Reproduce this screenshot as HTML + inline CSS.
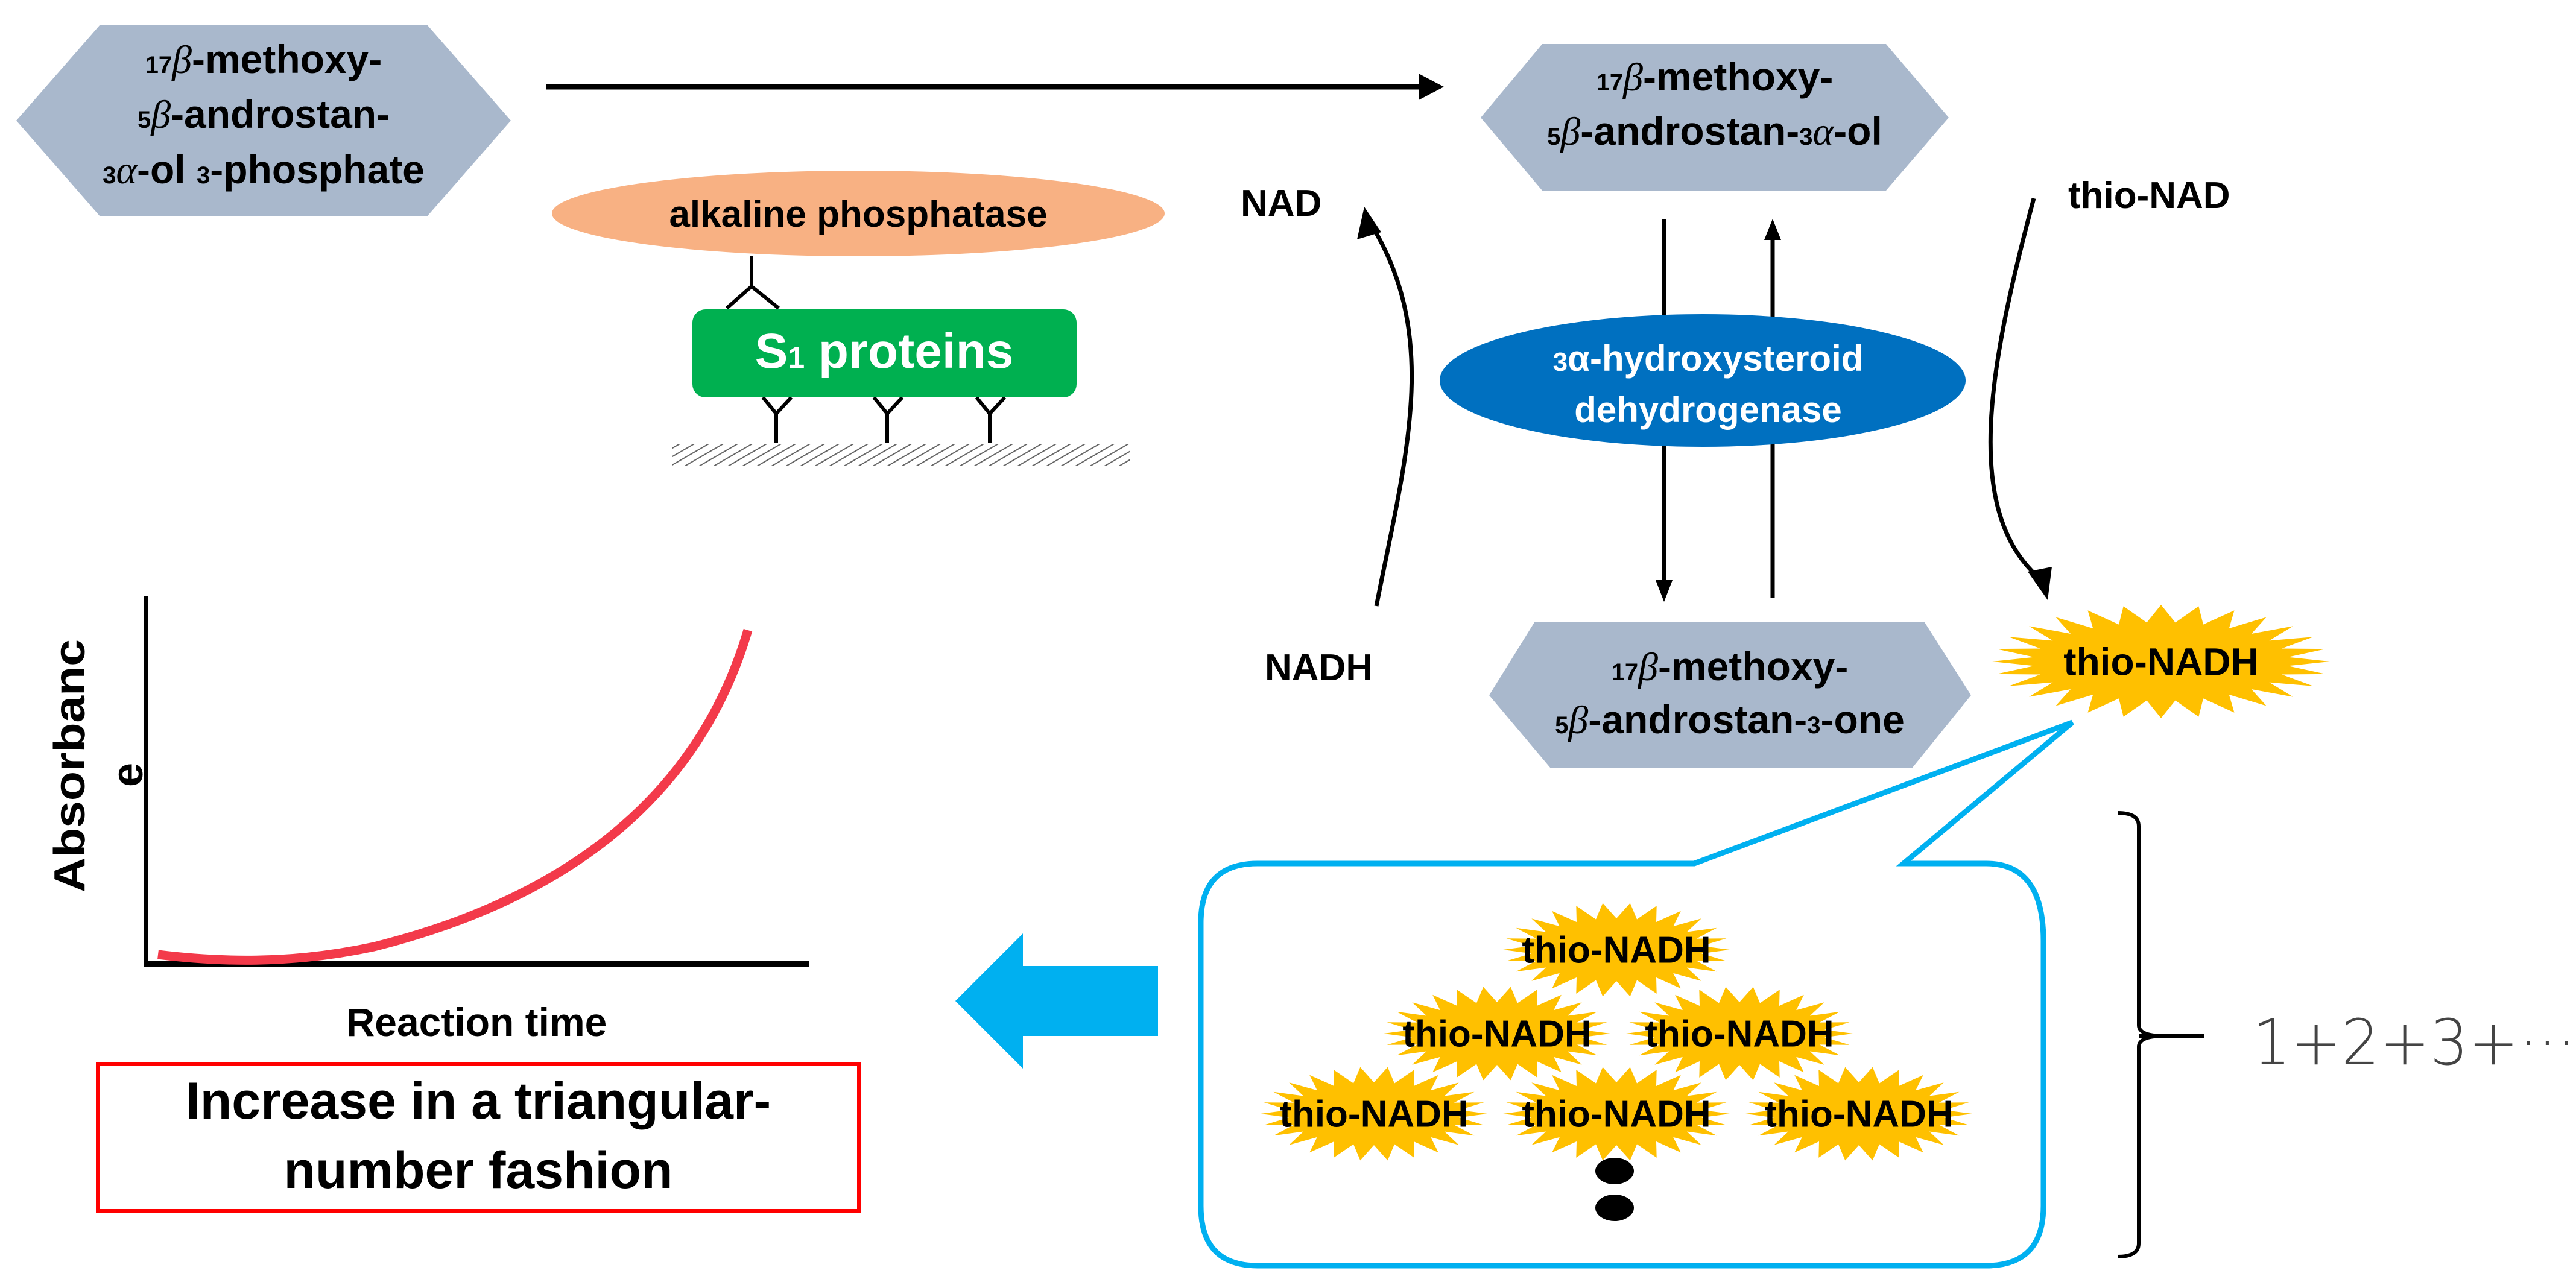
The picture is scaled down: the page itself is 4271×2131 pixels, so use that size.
<!DOCTYPE html>
<html><head><meta charset="utf-8"><style>
html,body{margin:0;padding:0;background:#fff;}
svg{display:block;}
text{font-family:"Liberation Sans Narrow","Liberation Sans",sans-serif;font-weight:bold;}
</style></head><body>
<svg id="s" width="4271" height="2131" viewBox="0 0 4271 2131" xmlns="http://www.w3.org/2000/svg">
<defs>
<pattern id="hatch" width="12" height="12" patternUnits="userSpaceOnUse" patternTransform="rotate(60)">
<rect width="12" height="12" fill="#fff"/><line x1="0" y1="0" x2="0" y2="12" stroke="#666" stroke-width="4"/>
</pattern>
<marker id="ah" markerWidth="10" markerHeight="10" refX="9" refY="5" orient="auto" markerUnits="userSpaceOnUse" viewBox="0 0 10 10" style="overflow:visible">
<path d="M0,0 L10,5 L0,10 z" fill="#000" transform="scale(3.2) translate(-7,-3.4)"/>
</marker>
</defs>

<!-- hexagon 1 -->
<polygon points="166,41 708,41 847,200 708,359 166,359 27,200" fill="#a9b8cc"/>
<text x="437" y="121" font-size="66" text-anchor="middle"><tspan font-size="40">17</tspan><tspan font-weight="normal" font-style="italic" font-family="Liberation Serif,serif">β</tspan>-methoxy-</text>
<text x="437" y="212" font-size="66" text-anchor="middle"><tspan font-size="40">5</tspan><tspan font-weight="normal" font-style="italic" font-family="Liberation Serif,serif">β</tspan>-androstan-</text>
<text x="437" y="304" font-size="66" text-anchor="middle"><tspan font-size="40">3</tspan><tspan font-weight="normal" font-style="italic" font-family="Liberation Serif,serif">α</tspan>-ol <tspan font-size="40">3</tspan>-phosphate</text>

<!-- top arrow -->
<line x1="906" y1="144" x2="2360" y2="144" stroke="#000" stroke-width="9"/>
<polygon points="2394,144 2352,122 2352,166" fill="#000"/>

<!-- alkaline phosphatase -->
<ellipse cx="1423" cy="354" rx="508" ry="71" fill="#f8b183"/>
<text x="1423" y="376" font-size="62" text-anchor="middle">alkaline phosphatase</text>
<g stroke="#000" stroke-width="6" fill="none">
<line x1="1246" y1="425" x2="1246" y2="475"/>
<polyline points="1205,511 1246,475 1291,511"/>
<polyline points="1265,659 1287,686 1312,659"/>
<line x1="1287" y1="686" x2="1287" y2="735"/>
<polyline points="1449,659 1471,686 1496,659"/>
<line x1="1471" y1="686" x2="1471" y2="735"/>
<polyline points="1619,659 1641,686 1666,659"/>
<line x1="1641" y1="686" x2="1641" y2="735"/>
</g>
<rect x="1148" y="513" width="637" height="146" rx="22" fill="#00b050"/>
<text x="1466" y="610" font-size="82" fill="#fff" text-anchor="middle">S<tspan font-size="50">1</tspan> proteins</text>
<rect x="1114" y="737" width="760" height="36" fill="url(#hatch)"/>

<!-- hexagon 2 -->
<polygon points="2557,73 3127,73 3231,195 3127,316 2557,316 2455,195" fill="#a9b8cc"/>
<text x="2843" y="150" font-size="66" text-anchor="middle"><tspan font-size="40">17</tspan><tspan font-weight="normal" font-style="italic" font-family="Liberation Serif,serif">β</tspan>-methoxy-</text>
<text x="2843" y="240" font-size="66" text-anchor="middle"><tspan font-size="40">5</tspan><tspan font-weight="normal" font-style="italic" font-family="Liberation Serif,serif">β</tspan>-androstan-<tspan font-size="40">3</tspan><tspan font-weight="normal" font-style="italic" font-family="Liberation Serif,serif">α</tspan>-ol</text>

<!-- NAD / thio-NAD -->
<text x="2057" y="358" font-size="62">NAD</text>
<text x="3429" y="345" font-size="62">thio-NAD</text>
<text x="2097" y="1128" font-size="62">NADH</text>

<path d="M2282,1005 C2330,760 2390,560 2272,370" stroke="#000" stroke-width="7" fill="none"/>
<polygon points="2262,343 2250,397 2290,385" fill="#000"/>
<path d="M3372,329 C3300,600 3250,850 3385,962" stroke="#000" stroke-width="7" fill="none"/>
<polygon points="3395,995 3362,948 3402,940" fill="#000"/>

<!-- vertical arrows -->
<line x1="2759" y1="363" x2="2759" y2="970" stroke="#000" stroke-width="7"/>
<polygon points="2759,998 2745,962 2773,962" fill="#000"/>
<line x1="2939" y1="991" x2="2939" y2="390" stroke="#000" stroke-width="7"/>
<polygon points="2939,363 2925,398 2953,398" fill="#000"/>

<!-- 3a-HSD -->
<ellipse cx="2823" cy="631" rx="436" ry="110" fill="#0070c0"/>
<text x="2832" y="615" font-size="60" fill="#fff" text-anchor="middle"><tspan font-size="44">3</tspan>α-hydroxysteroid</text>
<text x="2832" y="700" font-size="60" fill="#fff" text-anchor="middle">dehydrogenase</text>

<!-- hexagon 3 -->
<polygon points="2544,1032 3191,1032 3268,1153 3170,1274 2571,1274 2469,1153" fill="#a9b8cc"/>
<text x="2868" y="1128" font-size="66" text-anchor="middle"><tspan font-size="40">17</tspan><tspan font-weight="normal" font-style="italic" font-family="Liberation Serif,serif">β</tspan>-methoxy-</text>
<text x="2868" y="1216" font-size="66" text-anchor="middle"><tspan font-size="40">5</tspan><tspan font-weight="normal" font-style="italic" font-family="Liberation Serif,serif">β</tspan>-androstan-<tspan font-size="40">3</tspan>-one</text>

<g id="stars"></g>

<!-- callout -->
<path d="M2085,1432 L2809,1432 L3436,1198 L3156,1432 L3293,1432 Q3388,1432 3388,1560 L3388,2000 Q3388,2099 3293,2099 L2085,2099 Q1991,2099 1991,2000 L1991,1530 Q1991,1432 2085,1432 Z" fill="none" stroke="#00b0f0" stroke-width="9"/>
<g id="stars2"></g>
<ellipse cx="2677" cy="1942" rx="32" ry="22" fill="#000"/>
<ellipse cx="2677" cy="2003" rx="32" ry="22" fill="#000"/>

<!-- brace -->
<path d="M3511,1348 Q3546,1348 3546,1370 L3546,1700 Q3546,1718 3590,1718 Q3546,1718 3546,1736 L3546,2062 Q3546,2084 3511,2084" fill="none" stroke="#000" stroke-width="6"/>
<line x1="3546" y1="1718" x2="3654" y2="1718" stroke="#000" stroke-width="7" stroke-dasharray="0"/>
<text x="3735" y="1765" font-size="104" font-weight="normal" fill="#444" style="font-family:'DejaVu Sans','Liberation Sans',sans-serif;font-weight:200" textLength="536" lengthAdjust="spacingAndGlyphs">1+2+3+···</text>

<!-- blue arrow -->
<polygon points="1584,1660 1696,1548 1696,1602 1920,1602 1920,1718 1696,1718 1696,1772" fill="#00b0f0"/>

<!-- graph -->
<line x1="242" y1="988" x2="242" y2="1602" stroke="#000" stroke-width="8"/>
<line x1="238" y1="1599" x2="1342" y2="1599" stroke="#000" stroke-width="10"/>
<path d="M262,1583 C360,1595 480,1600 620,1570 C900,1500 1150,1350 1240,1045" fill="none" stroke="#f33a4a" stroke-width="15"/>
<text transform="translate(140,1480) rotate(-90)" font-size="72" style="font-family:'Liberation Sans',sans-serif;font-weight:bold" textLength="420" lengthAdjust="spacingAndGlyphs">Absorbanc</text>
<text transform="translate(236,1305) rotate(-90)" font-size="72" style="font-family:'Liberation Sans',sans-serif;font-weight:bold">e</text>
<text x="790" y="1718" font-size="66" text-anchor="middle">Reaction time</text>
<rect x="162" y="1765" width="1262" height="243" fill="none" stroke="#ff0000" stroke-width="6"/>
<text x="793" y="1855" font-size="86" text-anchor="middle">Increase in a triangular-</text>
<text x="793" y="1970" font-size="86" text-anchor="middle">number fashion</text>
</svg>
<script>
function star(cx,cy,rxo,ryo,rxi,ryi,n){var p=[];for(var i=0;i<2*n;i++){var a=Math.PI*i/n;var o=i%2==0;var rx=o?rxo:rxi,ry=o?ryo:ryi;p.push((cx+rx*Math.cos(a)).toFixed(1)+","+(cy+ry*Math.sin(a)).toFixed(1));}return p.join(" ");}
var NS="http://www.w3.org/2000/svg";
function addStar(g,cx,cy,rxo,ryo,rxi,ryi,n,fs){var pg=document.createElementNS(NS,"polygon");pg.setAttribute("points",star(cx,cy,rxo,ryo,rxi,ryi,n));pg.setAttribute("fill","#ffc000");g.appendChild(pg);var t=document.createElementNS(NS,"text");t.setAttribute("x",cx);t.setAttribute("y",cy+fs*0.35);t.setAttribute("font-size",fs);t.setAttribute("text-anchor","middle");t.textContent="thio-NADH";g.appendChild(t);}
var g1=document.getElementById("stars");addStar(g1,3583,1097,280,94,212,65,28,64);
var g2=document.getElementById("stars2");
[[2680,1575],[2482,1714],[2884,1714],[2278,1847],[2680,1847],[3082,1847]].forEach(function(c){addStar(g2,c[0],c[1],188,78,142,52,26,62);});
</script>
</body></html>
